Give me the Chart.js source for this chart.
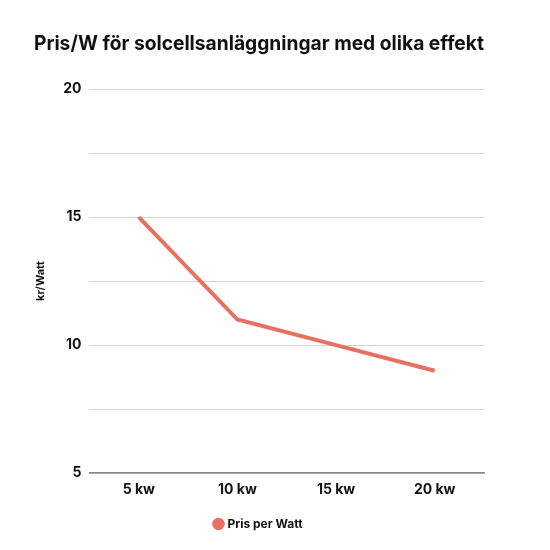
<!DOCTYPE html>
<html>
<head>
<meta charset="utf-8">
<script src="https://cdn.jsdelivr.net/npm/chart.js@4"></script>
<style>
  html, body { margin: 0; padding: 0; background: #fff; }
  #wrap { width: 550px; height: 550px; }
</style>
</head>
<body>
<div id="wrap"><canvas id="myChart"></canvas></div>
<script>
const categories = ['5 kw', '10 kw', '15 kw', '20 kw'];
const prisPerWatt = [15, 11, 10, 9];
const yLabels = [5, 10, 15, 20];

Chart.defaults.font.family = 'Inter, sans-serif';
Chart.defaults.color = '#111';

const myChart = document.getElementById('myChart');

new Chart(myChart, {
  type: 'line',
  data: {
    labels: categories,
    datasets: [
      {
        label: 'Pris per Watt',
        data: prisPerWatt,
        borderColor: 'rgb(232, 112, 96)',
        backgroundColor: 'rgb(232, 112, 96)',
        borderWidth: 4,
        pointRadius: 0,
        tension: 0
      }
    ]
  },
  options: {
    responsive: true,
    maintainAspectRatio: false,
    animation: false,
    layout: { padding: { left: 34, right: 66, top: 10, bottom: 10 } },
    plugins: {
      title: {
        display: true,
        text: 'Pris/W för solcellsanläggningar med olika effekt',
        font: { size: 20, weight: 'bold' },
        color: '#111',
        padding: { top: 22, bottom: 33 }
      },
      legend: {
        position: 'bottom',
        labels: {
          usePointStyle: true,
          pointStyle: 'circle',
          boxWidth: 6,
          boxHeight: 6,
          font: { size: 12, weight: 'bold' },
          padding: 12
        }
      }
    },
    scales: {
      x: {
        offset: true,
        grid: { display: false, drawTicks: false },
        border: { display: true, color: '#888', width: 1.5 },
        ticks: { font: { size: 14, weight: 'bold' }, padding: 8 }
      },
      y: {
        min: 5,
        max: 20,
        title: {
          display: true,
          text: 'kr/Watt',
          font: { size: 11, weight: 'bold' },
          padding: { top: 0, bottom: 8 }
        },
        grid: { color: '#d4d4d4', drawTicks: false },
        border: { display: false },
        ticks: {
          stepSize: 2.5,
          padding: 8,
          font: { size: 14, weight: 'bold' },
          callback: function (value) {
            return yLabels.includes(value) ? value : '';
          }
        }
      }
    }
  }
});
</script>
</body>
</html>
